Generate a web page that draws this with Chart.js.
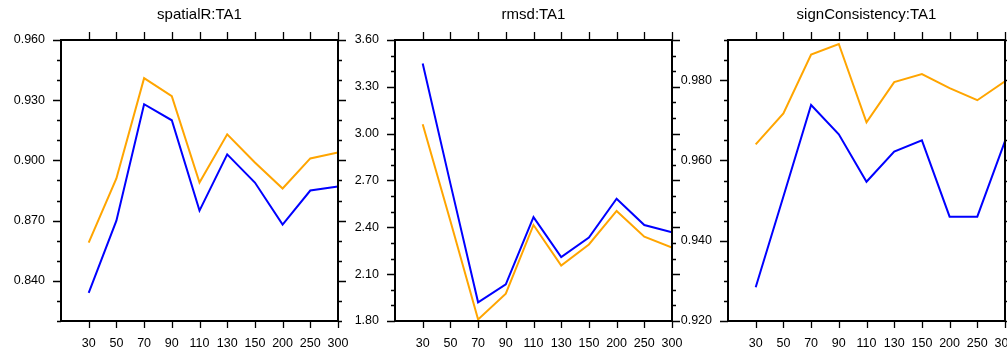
<!DOCTYPE html>
<html>
<head>
<meta charset="utf-8">
<script src="https://cdn.jsdelivr.net/npm/chart.js@4"></script>
<style>
  body { margin: 0; background: #fff; }
  #wrap { position: relative; width: 1007px; height: 351px; overflow: hidden; }
  canvas { position: absolute; top: 0; }
</style>
</head>
<body>
<div id="wrap">
  <canvas id="c1" width="348" height="351" style="left:0px"></canvas>
  <canvas id="c2" width="344" height="351" style="left:338px"></canvas>
  <canvas id="c3" width="335" height="351" style="left:672px"></canvas>
</div>
<script>
// x categories (shared by all three panels)
var categories = ['30', '50', '70', '90', '110', '130', '150', '200', '250', '300'];

// spatialR:TA1
var spatialOrange = [0.859, 0.891, 0.941, 0.932, 0.889, 0.913, 0.899, 0.886, 0.901, 0.904];
var spatialBlue   = [0.834, 0.870, 0.928, 0.920, 0.875, 0.903, 0.889, 0.868, 0.885, 0.887];
var spatialTicks  = [0.84, 0.87, 0.90, 0.93, 0.96];

// rmsd:TA1
var rmsdOrange = [3.06, 2.44, 1.81, 1.975, 2.415, 2.155, 2.29, 2.505, 2.34, 2.27];
var rmsdBlue   = [3.45, 2.68, 1.92, 2.035, 2.465, 2.21, 2.335, 2.583, 2.415, 2.368];
var rmsdTicks  = [1.80, 2.10, 2.40, 2.70, 3.00, 3.30, 3.60];

// signConsistency:TA1
var signOrange = [0.964, 0.9717, 0.9864, 0.989, 0.9695, 0.9795, 0.9815, 0.978, 0.975, 0.9797];
var signBlue   = [0.9284, 0.951, 0.9738, 0.9665, 0.9547, 0.9622, 0.965, 0.946, 0.946, 0.9648];
var signTicks  = [0.920, 0.940, 0.960, 0.980];

Chart.defaults.font.family = "'Liberation Sans', Arial, Helvetica, sans-serif";
Chart.defaults.font.size = 12;
Chart.defaults.color = '#000';

// NCL-like frame: box, outward major/minor ticks on all sides, title
var nclFrame = {
    id: 'nclFrame',
    afterDraw: function (chart) {
        var ctx = chart.ctx, a = chart.chartArea;
        var x = chart.scales.x, y = chart.scales.y;
        ctx.save();
        ctx.strokeStyle = '#000';
        ctx.lineWidth = 1.3;
        ctx.beginPath();
        x.ticks.forEach(function (t) {
            var px = Math.round(x.getPixelForValue(t.value)) + 0.5;
            ctx.moveTo(px, a.top); ctx.lineTo(px, a.top - 8);
            ctx.moveTo(px, a.bottom); ctx.lineTo(px, a.bottom + 7);
        });
        y.ticks.forEach(function (t) {
            var py = Math.round(y.getPixelForValue(t.value)) + 0.5;
            var len = t.major ? 8 : 4;
            ctx.moveTo(a.left, py); ctx.lineTo(a.left - len, py);
            ctx.moveTo(a.right, py); ctx.lineTo(a.right + len, py);
        });
        ctx.stroke();
        ctx.lineWidth = 2;
        ctx.strokeRect(a.left, a.top, a.right - a.left, a.bottom - a.top);
        ctx.fillStyle = '#000';
        ctx.font = "15px 'Liberation Sans', Arial, sans-serif";
        ctx.textAlign = 'center';
        ctx.textBaseline = 'middle';
        ctx.fillText(chart.options.plugins.nclFrame.text, (a.left + a.right) / 2, 15);
        ctx.restore();
    }
};

function makePanel(id, title, orange, blue, majors, minorStep, digits, yWidth, padRight) {
    var lo = majors[0], hi = majors[majors.length - 1];
    if (id === 'c1') { lo = 0.82; }
    if (id === 'c3') { hi = 0.99; }
    return new Chart(document.getElementById(id), {
        type: 'line',
        data: {
            datasets: [
                {
                    data: orange.map(function (v, i) { return { x: i, y: v }; }),
                    borderColor: '#FFA500',
                    borderWidth: 2,
                    pointRadius: 0,
                    tension: 0
                },
                {
                    data: blue.map(function (v, i) { return { x: i, y: v }; }),
                    borderColor: '#0000FF',
                    borderWidth: 2,
                    pointRadius: 0,
                    tension: 0
                }
            ]
        },
        options: {
            responsive: false,
            animation: false,
            devicePixelRatio: 1,
            layout: { padding: { top: 40, right: padRight, left: 0, bottom: 0 } },
            plugins: {
                legend: { display: false },
                tooltip: { enabled: false },
                nclFrame: { text: title }
            },
            scales: {
                x: {
                    type: 'linear',
                    min: -1,
                    max: 9,
                    grid: { display: false, drawTicks: false },
                    border: { display: false },
                    afterBuildTicks: function (s) {
                        s.ticks = categories.map(function (c, i) { return { value: i }; });
                    },
                    afterFit: function (s) {
                        s.height = 30;
                        s.paddingLeft = 0; s.paddingRight = 0;
                    },
                    ticks: {
                        autoSkip: false,
                        maxRotation: 0,
                        padding: 15,
                        font: { size: 12.5 },
                        callback: function (v) { return categories[v]; }
                    }
                },
                y: {
                    min: lo,
                    max: hi,
                    grid: { display: false, drawTicks: false },
                    border: { display: false },
                    afterBuildTicks: function (s) {
                        var n = Math.round((hi - lo) / minorStep);
                        var arr = [];
                        for (var k = 0; k <= n; k++) {
                            var v = +(lo + k * minorStep).toFixed(4);
                            var isMajor = majors.some(function (m) { return Math.abs(m - v) < 1e-6; });
                            arr.push({ value: v, major: isMajor });
                        }
                        s.ticks = arr;
                    },
                    afterFit: function (s) {
                        s.width = yWidth;
                        s.paddingTop = 0; s.paddingBottom = 0;
                    },
                    ticks: {
                        autoSkip: false,
                        padding: 16,
                        font: { size: 12.5 },
                        callback: function (v) {
                            var isMajor = majors.some(function (m) { return Math.abs(m - v) < 1e-6; });
                            return isMajor ? v.toFixed(digits) : '';
                        }
                    }
                }
            }
        },
        plugins: [nclFrame]
    });
}

makePanel('c1', 'spatialR:TA1', spatialOrange, spatialBlue, spatialTicks, 0.01, 3, 61, 10);
makePanel('c2', 'rmsd:TA1', rmsdOrange, rmsdBlue, rmsdTicks, 0.1, 2, 57, 10);
makePanel('c3', 'signConsistency:TA1', signOrange, signBlue, signTicks, 0.005, 3, 56, 2);
</script>
</body>
</html>
